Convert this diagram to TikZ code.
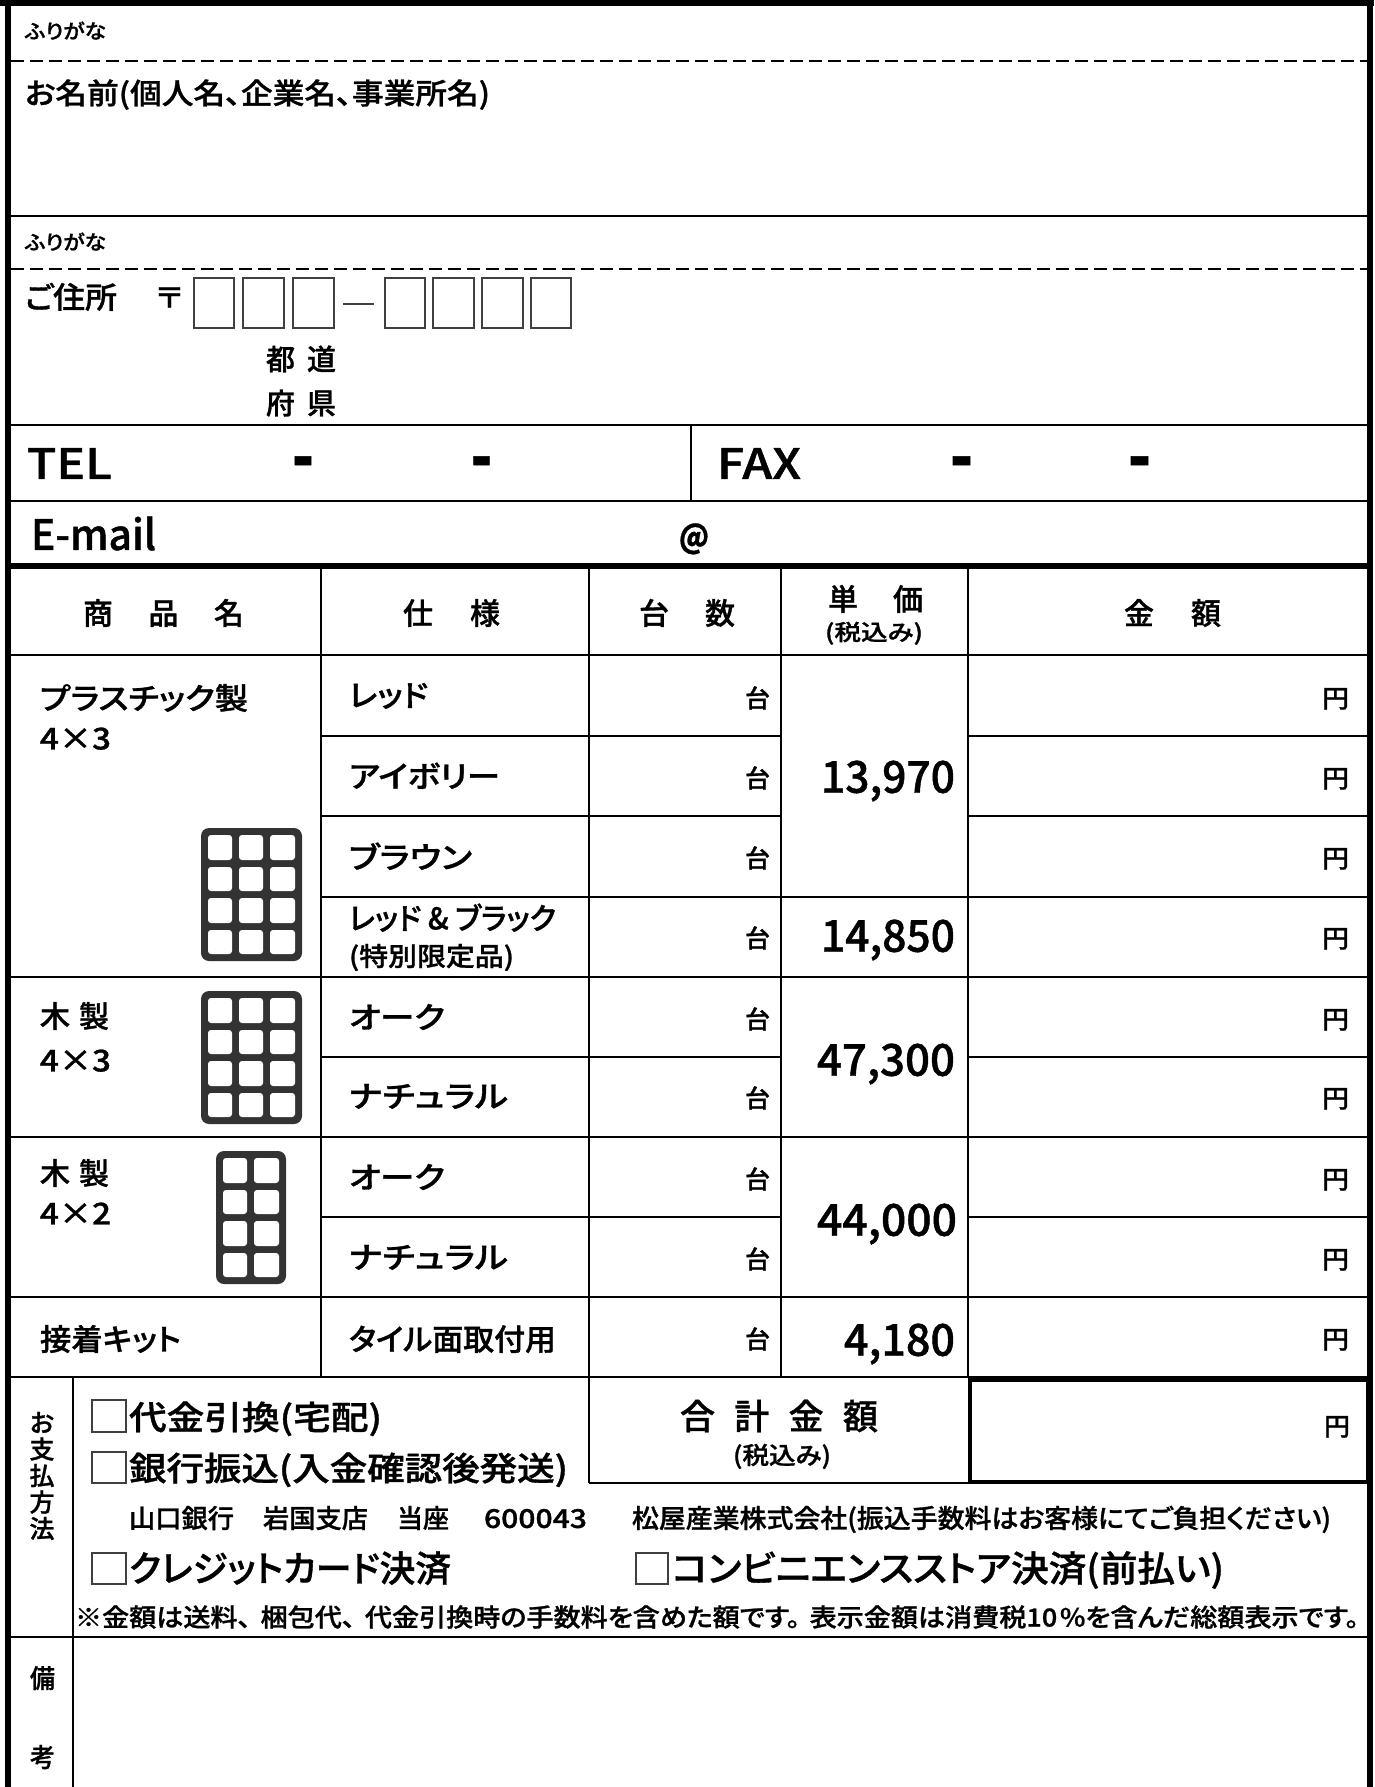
\documentclass[tikz,border=0pt]{standalone}
\usepackage{fontspec}
\usepackage{graphicx}
\setmainfont{Noto Sans CJK JP Medium}[RawFeature={+palt},FakeBold=1]
\newfontfamily\latinmed{Noto Sans CJK JP Medium}[RawFeature={+palt}]
\newcounter{txtn}
\newsavebox\fitbox
\newlength\fitlen
\tikzset{
  txt/.style={anchor=base west,inner sep=0pt,outer sep=0pt},
  thinline/.style={line width=1.9pt,black},
  thickline/.style={line width=6pt,black},
  frameline/.style={line width=6.5pt,black},
  totalline/.style={line width=4.6pt,black},
  dashline/.style={line width=1.9pt,black,dash pattern=on 12.5pt off 6.5pt},
  digitbox/.style={draw=black!75,line width=1.1pt},
  tileframe/.style={fill=black!80,rounded corners=8pt},
  tilecell/.style={fill=white,rounded corners=3pt},
}
% x-left, x-right, y-centre, size, text
\newcommand\tx[5]{%
  \stepcounter{txtn}%
  \pgfmathsetmacro\basey{#3+0.38*#4}%
  \node[txt] (t\arabic{txtn}) at (#1,\basey) {%
    \fontsize{#4}{#4}\selectfont
    \sbox\fitbox{#5}%
    \fitlen=\wd\fitbox
    \pgfmathsetmacro\fitratio{(#2-#1)/\fitlen}%
    \scalebox{\fitratio}[1]{\usebox\fitbox}};%
}
% spread text: x-left, x-right, y-centre, size, text with \hfill
\newcommand\sx[5]{%
  \stepcounter{txtn}%
  \pgfmathsetmacro\fitw{#2-#1}%
  \pgfmathsetmacro\basey{#3+0.38*#4}%
  \node[txt] (t\arabic{txtn}) at (#1,\basey) {\fontsize{#4}{#4}\selectfont\makebox[\fitw pt][s]{#5}};%
}
\begin{document}
\begin{tikzpicture}[x=1pt,y=-1pt]
\useasboundingbox (0,0) rectangle (1374,1787);
\fill[white] (0,0) rectangle (1374,1787);
% outer frame
\draw[frameline] (8,0) -- (8,1787);
\draw[frameline] (1370,0) -- (1370,1787);
\draw[frameline] (0,3) -- (1374,3);
% header block lines
\draw[dashline] (11,61) -- (1367,61);
\draw[thinline] (11,216) -- (1367,216);
\draw[dashline] (11,269) -- (1367,269);
\draw[thinline] (11,425) -- (1367,425);
\draw[thinline] (11,501) -- (1367,501);
\draw[thinline] (691,425) -- (691,501);
\draw[thickline] (11,566) -- (1367,566);
% table rows
\draw[thinline] (11,655) -- (1367,655);
\foreach \yy in {736,816,897,1057,1217} \draw[thinline] (321,\yy) -- (781,\yy);
\foreach \yy in {736,816,897,1057,1217} \draw[thinline] (968,\yy) -- (1367,\yy);
\draw[thinline] (781,897) -- (968,897);
\foreach \yy in {977,1137,1297} \draw[thinline] (11,\yy) -- (1367,\yy);
\draw[thinline] (11,1377) -- (1367,1377);
\foreach \xx in {321,781} \draw[thinline] (\xx,566) -- (\xx,1377);
\draw[thinline] (589,566) -- (589,1483);
\draw[thinline] (968,566) -- (968,1377);
% payment block
\draw[thinline] (73,1377) -- (73,1787);
\draw[thinline] (589,1483) -- (968,1483);
\draw[thinline] (11,1637) -- (1367,1637);
\draw[totalline] (970,1380) rectangle (1368,1482);
% postal boxes
\foreach \xa/\xb in {194/234,243/284,293/334,385/425,433/474,482/523,531/571}
  \draw[digitbox] (\xa,278) rectangle (\xb,328);
\draw[digitbox] (343,304) -- (374,304);
% check boxes
\foreach \xa/\xb/\ya/\yb in {92/126/1400/1432,92/126/1452/1483,92/126/1553/1584,636/668/1553/1584}
  \draw[digitbox] (\xa,\ya) rectangle (\xb,\yb);
% tiles
\foreach \dy in {0,163} {
  \fill[tileframe] (201,828+\dy) rectangle (302,961+\dy);
  \foreach \xa/\xb in {208/232,239/263,270/295}
    \foreach \ya/\yb in {835/860,867/891,898/923,930/954}
      \fill[tilecell] (\xa,\ya+\dy) rectangle (\xb,\yb+\dy);
}
\fill[tileframe] (216,1151) rectangle (286,1284);
\foreach \xa/\xb in {223/247,254/279}
  \foreach \ya/\yb in {835/860,867/891,898/923,930/954}
    \fill[tilecell] (\xa,\ya+323) rectangle (\xb,\yb+323);
% texts
\tx{25}{106}{31}{20}{ふりがな}
\tx{25}{490}{93}{29}{お名前(個人名、企業名、事業所名)}
\tx{25}{106}{242}{20}{ふりがな}
\tx{25}{117}{297}{30}{ご住所}
\tx{156}{183}{297}{28}{〒}
\sx{266}{336}{359}{29}{都\hfill 道}
\sx{266}{336}{403}{29}{府\hfill 県}
\tx{27}{112}{463}{42}{TEL}
\node[txt] (h1) at (292,481) {\fontsize{70}{70}\selectfont\bfseries\resizebox{22pt}{\height}{-}};
\node[txt] (h2) at (471,481) {\fontsize{70}{70}\selectfont\bfseries\resizebox{21pt}{\height}{-}};
\tx{717}{801}{463}{42}{FAX}
\node[txt] (h3) at (950,481) {\fontsize{70}{70}\selectfont\bfseries\resizebox{23pt}{\height}{-}};
\node[txt] (h4) at (1128,481) {\fontsize{70}{70}\selectfont\bfseries\resizebox{23pt}{\height}{-}};
\tx{31}{156}{534}{42}{E-mail}
\node[txt] (at1) at (679,548) {\fontsize{32}{32}\selectfont\bfseries\resizebox{30pt}{\height}{@}};
% header
\sx{83}{244}{613}{30}{商\hfill 品\hfill 名}
\sx{403}{500}{613}{30}{仕\hfill 様}
\sx{639}{735}{613}{30}{台\hfill 数}
\sx{828}{923}{599}{30}{単\hfill 価}
\tx{825}{923}{632}{22}{(税込み)}
\sx{1124}{1221}{613}{30}{金\hfill 額}
% column 1
\tx{40}{248}{698}{30}{プラスチック製}
\tx{40}{111}{738}{30}{4×3}
\sx{40}{109}{1016}{30}{木\hfill 製}
\tx{40}{111}{1060}{30}{4×3}
\sx{40}{109}{1173}{30}{木\hfill 製}
\tx{40}{111}{1213}{30}{4×2}
\tx{40}{181}{1339}{30}{接着キット}
% column 2
\tx{349}{428}{695}{30}{レッド}
\tx{349}{500}{776}{30}{アイボリー}
\tx{349}{472}{857}{30}{ブラウン}
\tx{349}{556}{918}{30}{レッド \& ブラック}
\tx{349}{514}{956}{26}{(特別限定品)}
\tx{349}{445}{1017}{30}{オーク}
\tx{349}{508}{1096}{30}{ナチュラル}
\tx{349}{445}{1177}{30}{オーク}
\tx{349}{508}{1257}{30}{ナチュラル}
\tx{349}{556}{1339}{30}{タイル面取付用}
% units
\foreach \yy in {698,778,858,938,1019,1098,1179,1259,1339} {
  \tx{745}{770}{\yy}{25}{台}
  \tx{1322}{1349}{\yy}{25}{円}
}
% prices
\tx{821}{955}{776}{44}{13,970}
\tx{821}{955}{935}{44}{14,850}
\tx{817}{955}{1059}{44}{47,300}
\tx{817}{957}{1219}{44}{44,000}
\tx{844}{955}{1339}{44}{4,180}
% payment
\node[anchor=center,align=center,inner sep=0pt,font=\fontsize{25}{26.5}\selectfont] (payhead) at (42,1476) {お\\支\\払\\方\\法};
\tx{30}{55}{1678}{26}{備}
\tx{30}{55}{1757}{26}{考}
\tx{129}{382}{1417}{33}{代金引換(宅配)}
\tx{129}{568}{1468}{33}{銀行振込(入金確認後発送)}
\tx{129}{234}{1518}{26}{山口銀行}
\tx{263}{368}{1518}{26}{岩国支店}
\tx{397}{449}{1518}{26}{当座}
\tx{484}{587}{1518}{26}{600043}
\tx{632}{1331}{1518}{26}{松屋産業株式会社(振込手数料はお客様にてご負担ください)}
\tx{129}{451}{1568}{36}{クレジットカード決済}
\tx{672}{1224}{1568}{36}{コンビニエンスストア決済(前払い)}
\tx{75}{1359}{1617}{25}{※金額は送料、\hspace{.35em}梱包代、\hspace{.35em}代金引換時の手数料を含めた額です。\hspace{.35em}表示金額は消費税10\hspace{.1em}\%を含んだ総額表示です。}
\sx{680}{878}{1416}{35}{合\hfill 計\hfill 金\hfill 額}
\tx{733}{831}{1455}{24}{(税込み)}
\tx{1324}{1350}{1426}{25}{円}
\end{tikzpicture}
\end{document}
